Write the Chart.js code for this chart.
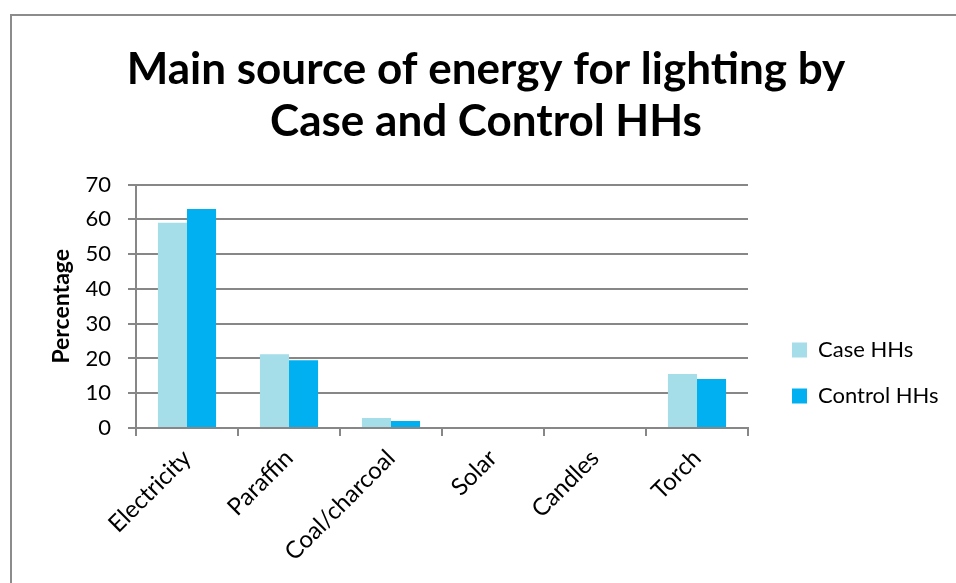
<!DOCTYPE html>
<html>
<head>
<meta charset="utf-8">
<script src="https://cdn.jsdelivr.net/npm/chart.js@4.4.1/dist/chart.umd.min.js"></script>
<style>
  html, body { margin: 0; padding: 0; background: #fff; }
  .frame { position: absolute; left: 10px; top: 14px; width: 1000px; height: 620px; border: 2px solid #8c8c8c; }
  .wrap { position: absolute; left: 0; top: 0; width: 956px; height: 583px; }
</style>
</head>
<body>
<div class="frame"></div>
<div class="wrap"><canvas id="chart" width="956" height="583"></canvas></div>
<script>
const categories = ['Electricity', 'Paraffin', 'Coal/charcoal', 'Solar', 'Candles', 'Torch'];
const caseHHs = [59, 21.2, 2.9, 0, 0, 15.5];
const controlHHs = [63, 19.5, 2, 0, 0, 14.1];
const yTicks = [0, 10, 20, 30, 40, 50, 60, 70];

const gridGray = '#878787';
Chart.defaults.font.family = 'Lato, "DejaVu Sans", sans-serif';
Chart.defaults.color = '#000';

// Excel-style legend: fixed width box, items placed right of the plot, below middle
const legendShift = {
  id: 'legendShift',
  beforeLayout(chart) {
    const lg = chart.legend;
    if (lg && !lg._fixedFit) {
      const fit = lg.fit;
      lg.fit = function () { fit.call(this); this.width = 208; };
      lg._fixedFit = true;
    }
  },
  afterLayout(chart) {
    const lg = chart.legend;
    const w = lg.right - lg.left, h = lg.bottom - lg.top;
    lg.left = 768; lg.right = lg.left + w;
    lg.top = 315; lg.bottom = lg.top + h;
  }
};

new Chart(document.getElementById('chart'), {
  type: 'bar',
  data: {
    labels: categories,
    datasets: [
      { label: 'Case HHs', data: caseHHs, backgroundColor: '#a5dde9' },
      { label: 'Control HHs', data: controlHHs, backgroundColor: '#00b0f0' }
    ]
  },
  options: {
    responsive: false,
    animation: false,
    layout: { padding: { left: 16, top: 0, right: 0, bottom: 0 } },
    datasets: { bar: { barPercentage: 1, categoryPercentage: 0.57 } },
    plugins: {
      title: {
        display: true,
        text: ['Main source of energy for lighting by', 'Case and Control HHs'],
        font: { size: 44, weight: 'bold', lineHeight: 1.2 },
        color: '#000',
        padding: { top: 43, bottom: 36 }
      },
      legend: {
        position: 'right',
        align: 'start',
        labels: { boxWidth: 15, boxHeight: 15, padding: 24, font: { size: 22 }, color: '#000' }
      },
      tooltip: { enabled: false }
    },
    scales: {
      x: {
        grid: { drawOnChartArea: false, tickLength: 8, color: gridGray, lineWidth: 2 },
        border: { color: gridGray, width: 2 },
        ticks: { maxRotation: 45, minRotation: 45, padding: 8, font: { size: 24 }, color: '#000' },
        afterFit(scale) { scale.height = 155; }
      },
      y: {
        min: 0,
        max: 70,
        afterBuildTicks(scale) { scale.ticks = yTicks.map(v => ({ value: v })); },
        grid: { color: gridGray, lineWidth: 2, tickLength: 8 },
        border: { color: gridGray, width: 2 },
        ticks: { padding: 17, font: { size: 22 }, color: '#000' },
        title: { display: true, text: 'Percentage', font: { size: 23, weight: 'bold' }, color: '#000', padding: { top: 32 } },
        afterFit(scale) { scale.width = 120; }
      }
    }
  },
  plugins: [legendShift]
});
</script>
</body>
</html>
